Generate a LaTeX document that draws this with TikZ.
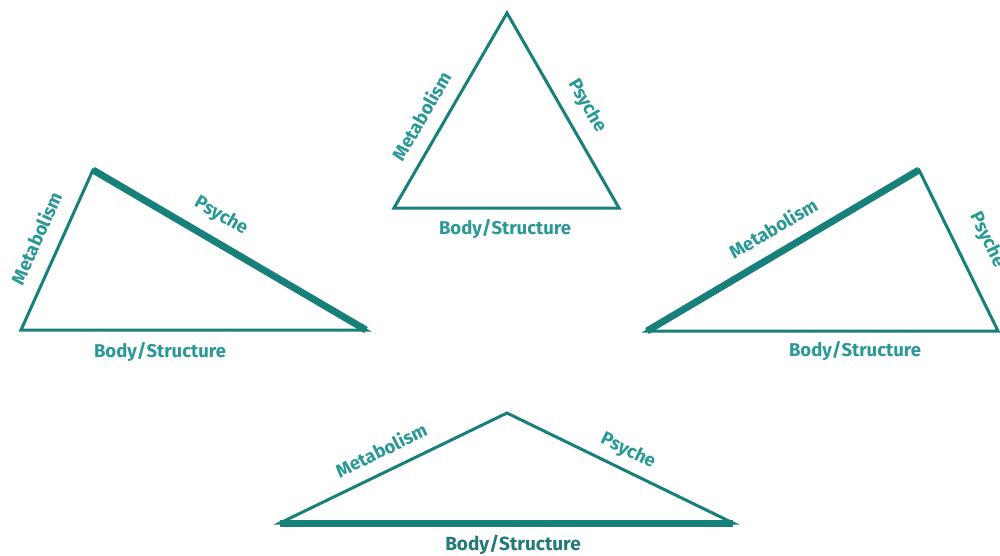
\documentclass[tikz,border=0pt]{standalone}
\usepackage{fontspec}
\setmainfont{Fira Sans}
\definecolor{edgecol}{HTML}{17807A}
\definecolor{txtcol}{HTML}{2A9896}
\begin{document}
\begin{tikzpicture}[x=1pt,y=-1pt,
  thinedge/.style={draw=edgecol,line width=3pt,line join=miter},
  thickedge/.style={draw=edgecol,line width=7pt,line cap=butt},
  lbl/.style={text=txtcol,font=\fontsize{18.5}{18.5}\selectfont\bfseries,inner sep=0pt},
  lblb/.style={text=txtcol!80!black,font=\fontsize{19}{19}\selectfont\bfseries,inner sep=0pt}]
\clip (0,0) rectangle (1000,556);
\fill[white] (0,0) rectangle (1000,556);
% top triangle
\coordinate (ta) at (507,13);
\coordinate (tl) at (394,208);
\coordinate (tr) at (619,208);
\draw[thinedge] (ta) -- (tr) -- (tl) -- cycle;
\node[lbl,rotate=60] (tm) at (421,116) {Metabolism};
\node[lbl,rotate=-60] (tp) at (587,106) {Psyche};
\node[lbl] (tb) at (505,229) {Body/Structure};
% left triangle
\coordinate (la) at (93,170);
\coordinate (ll) at (21,330);
\coordinate (lr) at (366,330);
\draw[thinedge] (la) -- (lr) -- (ll) -- cycle;
\draw[thickedge] (la) -- (lr);
\node[lbl,rotate=66] (lm) at (36,238) {Metabolism};
\node[lbl,rotate=-30] (lp) at (221,216) {Psyche};
\node[lbl] (lb) at (160,352) {Body/Structure};
% right triangle
\coordinate (ra) at (919,170);
\coordinate (rl) at (647,331);
\coordinate (rr) at (998,331);
\draw[thinedge] (ra) -- (rr) -- (rl) -- cycle;
\draw[thickedge] (rl) -- (ra);
\node[lbl,rotate=30.6] (rm) at (773,228) {Metabolism};
\node[lbl,rotate=-64] (rp) at (987,240) {Psyche};
\node[lbl] (rb) at (855,351) {Body/Structure};
% bottom triangle
\coordinate (ba) at (507,413);
\coordinate (bl) at (280,523);
\coordinate (br) at (733,523);
\draw[thinedge] (ba) -- (br) -- (bl) -- cycle;
\draw[thickedge] (bl) -- (br);
\node[lbl,rotate=26] (bm) at (381,450) {Metabolism};
\node[lbl,rotate=-26] (bp) at (628,451) {Psyche};
\node[lblb] (bb) at (513,545) {Body/Structure};
\end{tikzpicture}
\end{document}
